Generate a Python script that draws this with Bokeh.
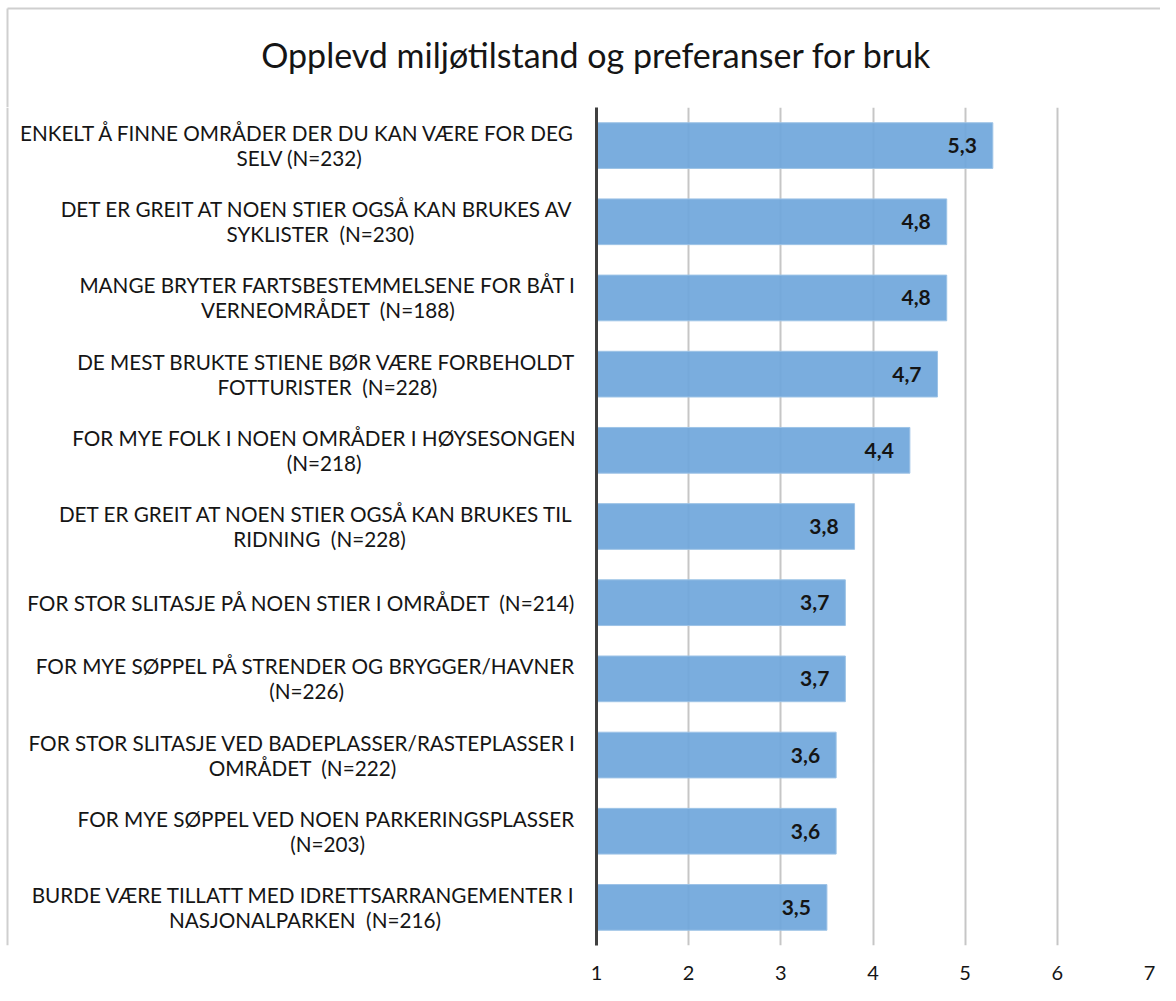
import glob
import os
import subprocess

from bokeh.plotting import figure
from bokeh.layouts import column, row
from bokeh.models import Range1d, FixedTicker
from bokeh.embed import file_html
from bokeh.resources import INLINE
from bokeh.core.properties import value

# ---------------- data ----------------
title_text = "Opplevd miljøtilstand og preferanser for bruk"
categories = [
    "ENKELT Å FINNE OMRÅDER DER DU KAN VÆRE FOR DEG\nSELV (N=232)",
    "DET ER GREIT AT NOEN STIER OGSÅ KAN BRUKES AV\nSYKLISTER  (N=230)",
    "MANGE BRYTER FARTSBESTEMMELSENE FOR BÅT I\nVERNEOMRÅDET  (N=188)",
    "DE MEST BRUKTE STIENE BØR VÆRE FORBEHOLDT\nFOTTURISTER  (N=228)",
    "FOR MYE FOLK I NOEN OMRÅDER I HØYSESONGEN\n(N=218)",
    "DET ER GREIT AT NOEN STIER OGSÅ KAN BRUKES TIL\nRIDNING  (N=228)",
    "FOR STOR SLITASJE PÅ NOEN STIER I OMRÅDET  (N=214)",
    "FOR MYE SØPPEL PÅ STRENDER OG BRYGGER/HAVNER\n(N=226)",
    "FOR STOR SLITASJE VED BADEPLASSER/RASTEPLASSER I\nOMRÅDET  (N=222)",
    "FOR MYE SØPPEL VED NOEN PARKERINGSPLASSER\n(N=203)",
    "BURDE VÆRE TILLATT MED IDRETTSARRANGEMENTER I\nNASJONALPARKEN  (N=216)",
]
values = [5.3, 4.8, 4.8, 4.7, 4.4, 3.8, 3.7, 3.7, 3.6, 3.6, 3.5]
x_ticks = [1, 2, 3, 4, 5, 6, 7]
x_tick_labels = ["1", "2", "3", "4", "5", "6", "7"]

# ---------------- layout / style ----------------
FONT = "Lato"
TOTAL_W = 1160
TITLE_H = 107          # chart frame starts at page y = 107
LABEL_W = 586          # label column width
CHART_BORDER_L = 10    # frame left (axis x=1) at page x = 596
FRAME_W = 553
FRAME_H = 838
BOTTOM_H = 48
X_MIN, X_MAX = 1, 7
BAR_COLOR = "#70a7db"
BAR_LINE = "#9dc3e6"
GRID_COLOR = "#c6c6c6"
AXIS_COLOR = "#404040"
TEXT_COLOR = "#151515"
BORDER_COLOR = "#cfcfcf"


def _find_font():
    pats = [
        "/usr/share/fonts/**/Lato-Regular.ttf",
        "/usr/local/share/fonts/**/Lato-Regular.ttf",
        os.path.expanduser("~/.fonts/**/Lato-Regular.ttf"),
        os.path.expanduser("~/.local/share/fonts/**/Lato-Regular.ttf"),
    ]
    for pat in pats:
        hits = sorted(glob.glob(pat, recursive=True))
        if hits:
            return hits[0]
    try:
        out = subprocess.run(["fc-match", "Lato:style=Regular", "--format=%{file}"],
                             capture_output=True, text=True, timeout=5).stdout.strip()
        if out and os.path.exists(out) and "lato" in out.lower():
            return out
    except Exception:
        pass
    return None


_FONT_PATH = _find_font()
_pil_font = None
if _FONT_PATH:
    try:
        from PIL import ImageFont
        _pil_font = ImageFont.truetype(_FONT_PATH, 100)
    except Exception:
        _pil_font = None


def text_width(s, size):
    if _pil_font is not None:
        return _pil_font.getlength(s) * size / 100.0
    return 0.6 * size * len(s)


def keep_spaces(s):
    # SVG collapses repeated spaces; keep the visual double space
    return s.replace("  ", " \u00a0")


label_size = 19.0
if _pil_font is not None:
    label_size = max(16.0, min(21.0, 20.0 * 552.0 / text_width(categories[0].split("\n")[0], 20.0)))
title_size = 31.0
if _pil_font is not None:
    title_size = max(26.0, min(34.0, 32.0 * 683.0 / text_width(title_text, 32.0)))

n = len(categories)
ys = list(range(n))
px_per_y = FRAME_H / n


def bare(fig):
    fig.outline_line_color = None
    fig.background_fill_color = "white"
    fig.border_fill_color = "white"
    fig.xgrid.visible = False
    fig.ygrid.visible = False
    return fig


# ---------- title strip ----------
t = bare(figure(width=TOTAL_W, height=TITLE_H, x_range=Range1d(0, TOTAL_W),
                y_range=Range1d(TITLE_H, 0), x_axis_location=None, y_axis_location=None,
                output_backend="svg", toolbar_location=None,
                min_border=0))
t.text(x=[596], y=[54], text=[title_text], text_align="center", text_baseline="middle",
       text_font=value(FONT), text_font_size=f"{title_size:.1f}px", text_color=TEXT_COLOR)
t.segment(x0=[7], y0=[8], x1=[TOTAL_W], y1=[8], line_color=BORDER_COLOR, line_width=2)
t.segment(x0=[7], y0=[8], x1=[7], y1=[TITLE_H], line_color=BORDER_COLOR, line_width=2)

# ---------- category labels ----------
lab = bare(figure(width=LABEL_W, height=FRAME_H + BOTTOM_H, x_range=Range1d(0, LABEL_W),
                  y_range=Range1d(n - 0.5, -0.5),
                  x_axis_location=None, y_axis_location=None,
                  output_backend="svg", toolbar_location=None,
                  min_border_left=0, min_border_right=0, min_border_top=0,
                  min_border_bottom=BOTTOM_H))
x_right = 575.0
line_off = 12.5 / px_per_y
l_x, l_y, l_t, l_a = [], [], [], []
for i, cat in enumerate(categories):
    lines = cat.split("\n")
    if len(lines) == 1:
        l_x.append(x_right); l_y.append(i); l_t.append(keep_spaces(lines[0])); l_a.append("right")
    else:
        w1 = text_width(lines[0], label_size)
        l_x.append(x_right); l_y.append(i - line_off); l_t.append(keep_spaces(lines[0])); l_a.append("right")
        l_x.append(x_right - w1 / 2.0); l_y.append(i + line_off); l_t.append(keep_spaces(lines[1])); l_a.append("center")
lab.text(x=l_x, y=l_y, text=l_t, text_align=l_a, text_baseline="middle",
         text_font=value(FONT), text_font_size=f"{label_size:.1f}px", text_color=TEXT_COLOR)
lab.segment(x0=[7], y0=[n - 0.5], x1=[7], y1=[-0.5],
            line_color=BORDER_COLOR, line_width=2)

# ---------- chart ----------
right_border = TOTAL_W - LABEL_W - CHART_BORDER_L - FRAME_W
p = figure(
    width=TOTAL_W - LABEL_W,
    height=FRAME_H + BOTTOM_H,
    x_range=Range1d(X_MIN, X_MAX),
    y_range=Range1d(n - 0.5, -0.5),
    output_backend="svg", toolbar_location=None,
    min_border_left=CHART_BORDER_L, min_border_right=right_border,
    min_border_top=0, min_border_bottom=BOTTOM_H,
)
p.outline_line_color = None
p.background_fill_color = "white"
p.border_fill_color = "white"

p.ygrid.grid_line_color = None
p.xgrid.ticker = FixedTicker(ticks=x_ticks[1:])
p.xgrid.grid_line_color = GRID_COLOR
p.xgrid.grid_line_width = 2

p.xaxis.ticker = FixedTicker(ticks=x_ticks)
p.xaxis.major_label_overrides = {tk: lb for tk, lb in zip(x_ticks, x_tick_labels)}
p.xaxis.axis_line_color = None
p.xaxis.major_tick_line_color = None
p.xaxis.minor_tick_line_color = None
p.xaxis.major_label_text_font = FONT
p.xaxis.major_label_text_font_size = "20px"
p.xaxis.major_label_text_color = TEXT_COLOR
p.xaxis.major_label_standoff = 14

p.yaxis.ticker = FixedTicker(ticks=[])
p.yaxis.axis_line_color = AXIS_COLOR
p.yaxis.axis_line_width = 3
p.yaxis.major_tick_line_color = None
p.yaxis.minor_tick_line_color = None
p.yaxis.major_label_text_font_size = "0px"

p.hbar(y=ys, left=X_MIN, right=values, height=0.6,
       fill_color=BAR_COLOR, fill_alpha=0.93, line_color=BAR_LINE, line_width=1)

val_text = [f"{v:.1f}".replace(".", ",") for v in values]
p.text(x=values, y=ys, text=val_text, x_offset=-16, text_align="right",
       text_baseline="middle", text_font=value(FONT), text_font_style="bold",
       text_font_size="21px", text_color=TEXT_COLOR)

layout = column(t, row(lab, p, spacing=0), spacing=0)

open("out.html", "w").write(file_html(layout, INLINE))
